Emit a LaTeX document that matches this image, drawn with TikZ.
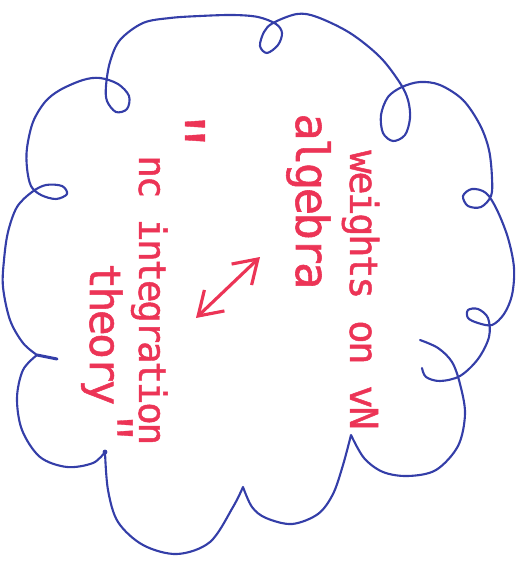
\documentclass[tikz,border=0pt]{standalone}
\usepackage{fontspec}
\usepackage{tikz}
\usetikzlibrary{arrows.meta}
\newfontfamily\handfont[LetterSpace=-6,FakeBold=1.2]{DejaVu Sans Mono}
\newfontfamily\tickfont[FakeBold=0.6]{Liberation Mono}
\definecolor{cloudCol}{RGB}{52,62,168}
\definecolor{inkCol}{RGB}{236,52,86}
\tikzset{
  cloudline/.style={draw=cloudCol,line width=1.2pt,line cap=round,line join=round},
  hand/.style={text=inkCol,rotate=-90,anchor=base west,inner sep=0pt,
               font=\handfont\fontsize{#1}{#1}\selectfont},
  quot/.style={text=inkCol,rotate=-90,anchor=base,inner sep=0pt,
               font=\tickfont\fontsize{#1}{#1}\selectfont},
  twoway/.style={{Straight Barb[length=4.5mm,width=5.8mm]}-{Straight Barb[length=4.5mm,width=5.8mm]},
                 draw=inkCol,line width=1.8pt,line cap=round,line join=round},
}

\begin{document}
\begin{tikzpicture}[x=0.02cm,y=-0.02cm]
  \useasboundingbox (0,0) rectangle (526,574);
  % the cloud, lower bumps first, then round the top with its loops
  \draw[cloudline]
    plot[smooth,tension=0.55] coordinates {(420,340) (438,348) (452,362) (460,384) (465,414) (458,446)
      (436,470) (408,476) (383,472) (364,458) (351,435)}
    -- plot[smooth,tension=0.55] coordinates {(351,435) (343,465) (333,494) (318,514) (292,524)
      (266,518) (252,507) (243,487)}
    -- plot[smooth,tension=0.55] coordinates {(243,487) (233,507) (210,542) (177,554) (143,545)
      (118,522) (108,490) (105,452)}
    -- plot[smooth,tension=0.55] coordinates {(105,452) (93,463) (67,467) (40,457) (22,430)
      (17,398) (23,370) (37,355)}
    -- plot[smooth,tension=0.55] coordinates {(37,355) (23,343) (10,320) (3,287) (4,260) (8,232)
      (17,207) (32,192) (46,185) (62,186) (67,194) (56,199) (41,195) (31,186) (27,168) (27,148)
      (33,122) (45,102) (60,90) (83,80) (100,78) (118,84) (129,96) (127,109) (116,112) (107,101)
      (106,86) (110,62) (120,40) (143,23) (170,18) (200,16) (233,15) (258,17) (276,24) (282,33)
      (278,45) (267,53) (260,46) (264,32) (273,23) (297,14) (317,17) (350,33) (380,57) (400,83)
      (408,100) (410,118) (405,135) (393,141) (383,133) (381,115) (388,97) (402,87) (420,82)
      (440,85) (463,100) (480,125) (489,150) (492,178) (491,196) (481,207) (468,206) (463,196)
      (472,189) (486,193) (497,210) (508,238) (514,268) (512,295) (504,314) (492,325) (478,323)
      (468,318) (468,310) (478,309) (488,318) (489,337) (478,359) (460,376) (440,381) (426,377)
      (422,368)};
  \draw[cloudline,line width=1.7pt] (37,355) -- (57,359);
  \fill[cloudCol] (105,452) circle (2.4);

  \node[hand=22] (wt) at (350,150) {weights on vN};
  \node[hand=26] (alg) at (296,113) {algebra};
  \node[quot=36] (oq) at (159,131) {"};
  \node[hand=21.4] (nc) at (139,155) {nc integration};
  \node[hand=24.4] (th) at (90,263) {theory};
  \node[quot=28] (cq) at (97,428) {"};

  \coordinate (lo) at (196,318);
  \coordinate (hi) at (260,257);
  \draw[twoway] (lo) -- (hi);
\end{tikzpicture}
\end{document}
